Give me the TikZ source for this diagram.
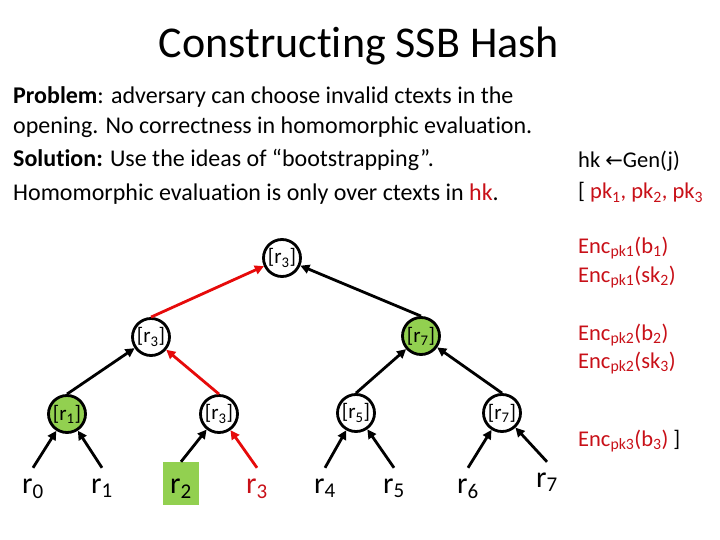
\documentclass[tikz,border=0pt]{standalone}
\usepackage{fontspec}
\setmainfont[Ligatures={TeX,NoCommon}]{Carlito}
\newfontfamily\djv{DejaVu Sans}
\usetikzlibrary{arrows.meta}
\definecolor{ogreen}{RGB}{146,208,80}
\definecolor{tred}{RGB}{200,16,24}
\definecolor{ared}{RGB}{230,10,10}
\newcommand{\sbs}[1]{\textsubscript{#1}}
\begin{document}
\begin{tikzpicture}[x=1pt,y=-1pt,
  tn/.style={circle,draw,line width=2.8pt,minimum size=37pt,inner sep=0pt,font=\fontsize{21}{21}\selectfont},
  leaf/.style={anchor=base,inner sep=0pt,text height=25pt,text depth=6pt,font=\fontsize{30}{30}\selectfont},
  arr/.style={line width=2.8pt,-{Triangle[length=9pt,width=9pt]}},
  body/.style={anchor=base west,inner sep=0pt,font=\fontsize{24}{24}\selectfont},
  side/.style={anchor=base west,inner sep=0pt,font=\fontsize{22.5}{22.5}\selectfont},
]
\useasboundingbox (0,0) rectangle (720,540);

% title
\node[anchor=base,inner sep=0pt,font=\fontsize{44}{44}\selectfont] (title) at (359,58) {Constructing SSB Hash};

% body text
\node[body] (l1) at (13,104) {\textbf{Problem}: adversary can choose invalid ctexts in the};
\node[body] (l2) at (13,134) {opening. No correctness in homomorphic evaluation.};
\node[body] (l3) at (13,167) {\textbf{Solution:} Use the ideas of “bootstrapping”.};
\node[body] (l4) at (13,201) {Homomorphic evaluation is only over ctexts in \textcolor{tred}{hk}.};

% right column
\node[side] (s1) at (578,168) {hk {\djv\fontsize{21}{21}\selectfont ←}Gen(j)};
\node[side] (s2) at (578,199) {[ \textcolor{tred}{pk\sbs{1}, pk\sbs{2}, pk\sbs{3}}};
\node[side,text=tred] (s3) at (578,253) {Enc\sbs{pk1}(b\sbs{1})};
\node[side,text=tred] (s4) at (578,282) {Enc\sbs{pk1}(sk\sbs{2})};
\node[side,text=tred] (s5) at (578,340) {Enc\sbs{pk2}(b\sbs{2})};
\node[side,text=tred] (s6) at (578,368) {Enc\sbs{pk2}(sk\sbs{3})};
\node[side] (s7) at (578,446) {\textcolor{tred}{Enc\sbs{pk3}(b\sbs{3})} ]};

% tree nodes
\node[tn] (root) at (282,258) {[r\sbs{3}]};
\node[tn] (a1) at (151,337) {[r\sbs{3}]};
\node[tn,fill=ogreen] (a2) at (421,336) {[r\sbs{7}]};
\node[tn,fill=ogreen] (b1) at (67,414) {[r\sbs{1}]};
\node[tn] (b2) at (219,414) {[r\sbs{3}]};
\node[tn] (b3) at (356,413) {[r\sbs{5}]};
\node[tn] (b4) at (502,413) {[r\sbs{7}]};

% leaves
\node[leaf] (c0) at (33,493) {r\sbs{0}};
\node[leaf] (c1) at (102,493) {r\sbs{1}};
\node[leaf,fill=ogreen,text height=31pt,text depth=12pt,minimum width=36pt] (c2) at (181,493) {r\sbs{2}};
\node[leaf,text=tred] (c3) at (257,493) {r\sbs{3}};
\node[leaf] (c4) at (325,493) {r\sbs{4}};
\node[leaf] (c5) at (394,493) {r\sbs{5}};
\node[leaf] (c6) at (468,493) {r\sbs{6}};
\node[leaf] (c7) at (547,487) {r\sbs{7}};

% arrows
\draw[arr] (c0.north) -- (b1);
\draw[arr] (c1.north) -- (b1);
\draw[arr] (c2.north) -- (b2);
\draw[arr,ared] (c3.north) -- (b2);
\draw[arr] (c4.north) -- (b3);
\draw[arr] (c5.north) -- (b3);
\draw[arr] (c6.north) -- (b4);
\draw[arr] (c7.north) -- (b4);

\draw[arr] (b1.north) -- (a1);
\draw[arr,ared] (b2.north) -- (a1);
\draw[arr] (b3.north) -- (a2);
\draw[arr] (b4.north) -- (a2);

\draw[arr,ared] (a1.north) -- (root);
\draw[arr] (a2.north) -- (root);
\end{tikzpicture}
\end{document}
